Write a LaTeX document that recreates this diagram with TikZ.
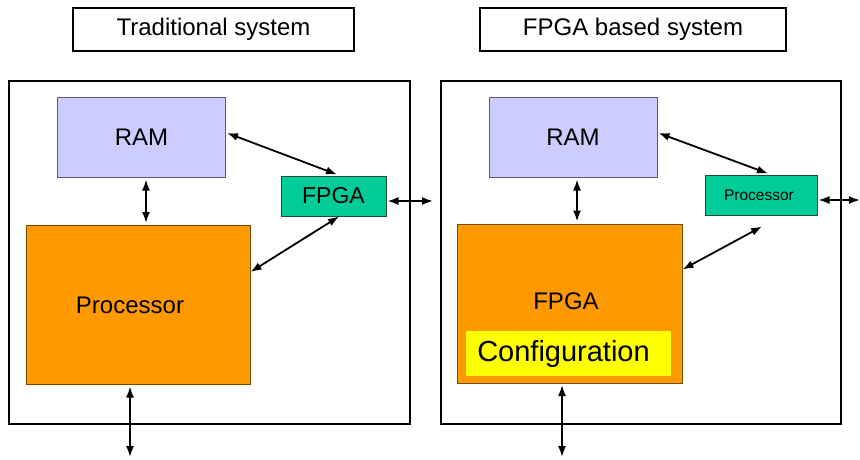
\documentclass[tikz,border=0pt]{standalone}
\usepackage{fontspec}
\setmainfont{Liberation Sans}
\usetikzlibrary{arrows.meta}

\definecolor{ramfill}{HTML}{CCCCFF}
\definecolor{ramline}{HTML}{5A5A70}
\definecolor{orangefill}{HTML}{FF9900}
\definecolor{orangeline}{HTML}{7A4A00}
\definecolor{greenfill}{HTML}{00CC99}
\definecolor{greenline}{HTML}{1E4A3A}
\definecolor{conffill}{HTML}{FFFF00}

\begin{document}
\begin{tikzpicture}[x=1pt, y=-1pt,
    titlebox/.style={draw, line width=2pt, inner sep=0pt, font=\fontsize{24}{27}\selectfont},
    frame/.style={line width=2.6pt},
    rambox/.style={draw=ramline, fill=ramfill, line width=1pt, inner sep=0pt,
      minimum width=168pt, minimum height=80pt, font=\fontsize{24}{28}\selectfont},
    bigbox/.style={draw=orangeline, fill=orangefill, line width=1pt, inner sep=0pt,
      minimum width=224pt, minimum height=159pt, font=\fontsize{24}{28}\selectfont},
    smallbox/.style={draw=greenline, fill=greenfill, line width=1pt, inner sep=0pt,
      minimum height=40pt},
    link/.style={line width=1.8pt, {Latex[length=11pt,width=8pt]}-{Latex[length=11pt,width=8pt]}}
  ]

    \useasboundingbox (0,0) rectangle (860,459);

    % 标题
    \node[titlebox, minimum width=281pt, minimum height=43pt] (title1) at (213.5,29.5) {\raisebox{-1.5pt}{Traditional system}};
    \node[titlebox, minimum width=306pt, minimum height=43pt] (title2) at (633,29.5) {\raisebox{-1.5pt}{FPGA based system}};

    % 外框
    \draw[frame] (9,81) rectangle (410,424);
    \draw[frame] (441,81) rectangle (841,424);

    % 左边：传统系统
    \node[rambox] (ram1) at (141.5,137) {RAM};
    \node[smallbox, minimum width=105pt, font=\fontsize{23}{26}\selectfont] (fpga1) at (333.5,196) {FPGA};
    \node[bigbox] (proc1) at (138,305) {\hspace*{-16pt}Processor};
    \coordinate (io1) at (433,201);
    \coordinate (bot1) at (130,457);

    \draw[link] ([xshift=4.5pt, yshift=-2pt]ram1.south) -- ([xshift=8pt, yshift=2pt]proc1.north);
    \draw[link] ([xshift=1pt, yshift=4pt]ram1.east) -- ([xshift=3.5pt, yshift=1pt]fpga1.north);
    \draw[link] ([xshift=5.5pt]fpga1.south) -- ([yshift=-47pt]proc1.north east);
    \draw[link] ([xshift=1pt, yshift=-5pt]fpga1.east) -- (io1);
    \draw[link] ([xshift=-8pt, yshift=-1.5pt]proc1.south) -- (bot1);

    % 右边：FPGA 系统
    \node[rambox] (ram2) at (573,137) {RAM};
    \node[smallbox, minimum width=112pt, font=\fontsize{15.5}{18}\selectfont] (proc2) at (761,195) {\hspace*{-4pt}Processor};
    \node[bigbox, minimum width=225pt] (fpga2) at (569.5,303.5) {\hspace*{-7pt}\raisebox{5pt}{FPGA}};
    \node[fill=conffill, inner sep=0pt, minimum width=205pt, minimum height=45pt,
      font=\fontsize{29}{33}\selectfont] (conf) at (568.5,353.5) {\hspace*{-10pt}Configuration};
    \coordinate (io2) at (860,200);
    \coordinate (bot2) at (562,457);

    \draw[link] ([xshift=4pt, yshift=-2pt]ram2.south) -- ([xshift=7.5pt, yshift=2pt]fpga2.north);
    \draw[link] ([xshift=1pt, yshift=4pt]ram2.east) -- ([xshift=7pt, yshift=1pt]proc2.north);
    \draw[link] ([yshift=-46pt]fpga2.north east) -- ([xshift=1pt, yshift=-11pt]proc2.south);
    \draw[link] ([xshift=1pt, yshift=-5pt]proc2.east) -- (io2);
    \draw[link] ([xshift=-7.5pt, yshift=-1.5pt]fpga2.south) -- (bot2);

  \end{tikzpicture}
\end{document}
